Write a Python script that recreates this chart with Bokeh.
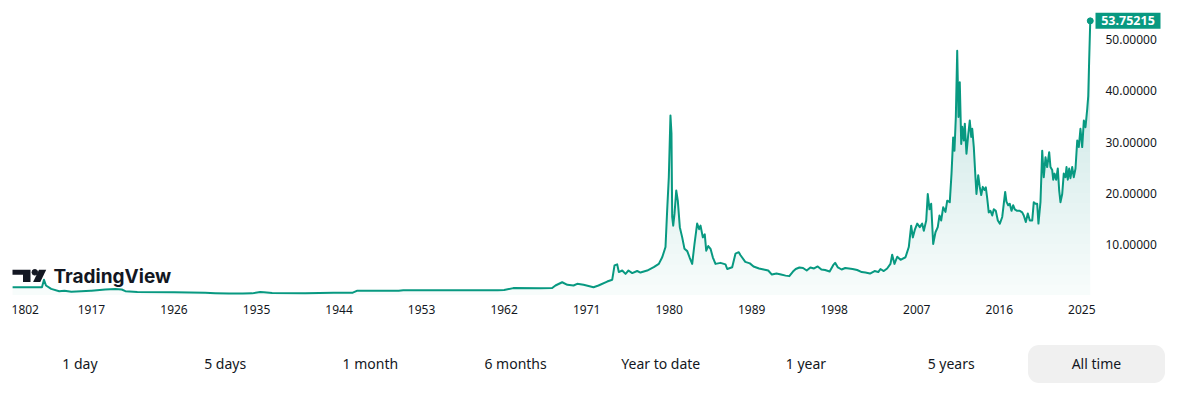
import numpy as np
from bokeh.plotting import figure
from bokeh.models import Range1d, FixedTicker, NumeralTickFormatter, Div
from bokeh.layouts import column
from bokeh.embed import file_html
from bokeh.resources import INLINE
from bokeh.core.properties import value

# ---------------- data ----------------
early_years = [1780, 1831, 1834.5, 1838, 1847, 1861, 1870, 1882, 1899, 1916]
early_values = [1.53, 1.53, 2.98, 1.86, 1.2, 0.75, 0.85, 0.62, 0.75, 0.85]

years = [
    1917, 1918.5, 1919.6, 1920.3, 1920.7, 1922, 1926, 1929.4, 1930.5, 1932, 1933.5,
    1934.5, 1935.4, 1935.8, 1936.7, 1940.3, 1943.4, 1945.5, 1946, 1950.5, 1951, 1956,
    1961.3, 1962, 1963, 1965.97, 1967.24, 1967.6, 1968.33, 1968.9, 1969.57, 1969.97,
    1970.66, 1971.75, 1972.29, 1973.24, 1973.79, 1974.04, 1974.33, 1974.51, 1974.88,
    1975.24, 1975.56, 1975.97, 1976.51, 1976.87, 1977.6, 1978.32, 1978.87, 1979.24,
    1979.6, 1979.78, 1979.96, 1980.14, 1980.25, 1980.33, 1980.44, 1980.58, 1980.77,
    1980.94, 1981.16, 1981.42, 1981.67, 1981.97, 1982.22, 1982.51, 1982.76, 1983.05,
    1983.27, 1983.42, 1983.67, 1983.88, 1984.04, 1984.26, 1984.51, 1984.76, 1985.05,
    1985.6, 1986.14, 1986.33, 1986.87, 1987.23, 1987.59, 1987.78, 1988.3, 1988.8,
    1989.2, 1989.8, 1990.3, 1990.8, 1991.2, 1991.7, 1992.2, 1992.7, 1993.1, 1993.5,
    1993.8, 1994.2, 1994.6, 1995.0, 1995.4, 1995.8, 1996.2, 1996.6, 1997.0, 1997.5,
    1997.9, 1998.1, 1998.4, 1998.8, 1999.2, 1999.6, 2000.0, 2000.5, 2001.0, 2001.4,
    2001.9, 2002.4, 2002.8, 2003.04, 2003.4, 2003.77, 2004.13, 2004.32, 2004.57,
    2004.87, 2005.23, 2005.77, 2006.13, 2006.39, 2006.57, 2006.79, 2007.05, 2007.33,
    2007.59, 2007.77, 2008.03, 2008.2, 2008.39, 2008.57, 2008.79, 2009.04, 2009.29,
    2009.48, 2009.66, 2009.88, 2010.13, 2010.32, 2010.6, 2010.79, 2010.97, 2011.11,
    2011.26, 2011.41, 2011.55, 2011.69, 2011.85, 2011.96, 2012.13, 2012.24, 2012.42,
    2012.61, 2012.78, 2012.94, 2013.05, 2013.22, 2013.4, 2013.51, 2013.7, 2013.87,
    2014.03, 2014.2, 2014.39, 2014.53, 2014.68, 2014.85, 2015.04, 2015.23, 2015.4,
    2015.62, 2015.84, 2016.06, 2016.32, 2016.49, 2016.64, 2016.78, 2016.97, 2017.14,
    2017.33, 2017.51, 2017.69, 2017.95, 2018.24, 2018.5, 2018.67, 2018.89, 2019.11,
    2019.33, 2019.59, 2019.76, 2019.95, 2020.13, 2020.27, 2020.49, 2020.68, 2020.85,
    2021.04, 2021.22, 2021.44, 2021.58, 2021.77, 2021.88, 2022.02, 2022.2, 2022.38,
    2022.53, 2022.67, 2022.86, 2023.03, 2023.22, 2023.33, 2023.47, 2023.62, 2023.76,
    2023.95, 2024.12, 2024.31, 2024.5, 2024.67, 2024.85, 2025.04, 2025.22, 2025.4,
    2025.59, 2025.7, 2025.8, 2025.92,
]
values = [
    0.85, 1.08, 1.2, 1.08, 0.75, 0.6, 0.55, 0.43, 0.35, 0.28, 0.3,
    0.32, 0.6, 0.55, 0.38, 0.35, 0.42, 0.45, 0.85, 0.85, 0.93, 0.92,
    0.93, 1.0, 1.35, 1.33, 1.36, 1.86, 2.5, 2.0, 1.86, 2.2,
    2.0, 1.53, 1.86, 2.64, 3.0, 5.8, 6.0, 4.5, 4.8,
    4.15, 4.8, 4.3, 4.7, 4.4, 4.8, 5.45, 6.1, 7.4,
    9.4, 16.6, 23.1, 35.2, 31.7, 15.3, 13.6, 15.9, 20.5,
    18.5, 13.3, 11.3, 9.05, 8.6, 7.4, 6.1, 10.0, 14.0,
    12.9, 13.6, 11.3, 11.9, 8.7, 9.6, 9.05, 7.4, 6.1,
    6.3, 6.0, 5.1, 5.45, 8.1, 8.4, 7.8, 6.5, 6.2,
    5.6, 5.2, 5.0, 4.8, 4.0, 4.2, 4.0, 3.8, 3.7, 4.6,
    5.1, 5.4, 5.3, 4.8, 5.4, 5.2, 5.6, 5.0, 4.9, 4.6,
    5.9, 6.3, 5.4, 5.0, 5.3, 5.2, 5.1, 4.9, 4.5, 4.4,
    4.2, 4.7, 4.5, 5.1, 4.7, 5.2, 6.1, 7.9, 6.1,
    7.5, 6.9, 7.4, 9.4, 13.6, 11.3, 12.8, 14.0, 13.3,
    14.0, 12.6, 14.6, 19.8, 16.8, 17.9, 10.0, 12.3, 13.3,
    15.6, 14.6, 17.2, 16.3, 18.5, 18.2, 23.8, 30.9, 28.3,
    34.9, 47.9, 34.9, 41.7, 29.6, 33.0, 30.3, 33.6, 27.7,
    31.4, 34.2, 31.0, 32.6, 29.0, 23.1, 19.8, 23.5, 21.2,
    19.6, 21.2, 20.6, 21.1, 19.0, 16.2, 16.5, 15.6, 16.8,
    16.5, 14.6, 14.0, 15.3, 17.9, 20.2, 18.3, 17.6, 17.9,
    16.5, 17.6, 16.8, 16.5, 16.5, 16.2, 15.6, 14.3, 16.0,
    14.6, 14.6, 18.2, 17.9, 17.9, 14.0, 18.2, 28.3, 23.1,
    27.0, 25.1, 28.0, 25.1, 24.5, 22.6, 23.8, 22.6, 24.8,
    20.5, 18.2, 19.8, 23.8, 23.1, 25.1, 22.6, 24.8, 22.9,
    25.1, 23.1, 24.8, 30.3, 29.0, 32.6, 29.0, 34.2, 32.9,
    36.5, 39.0, 46.0, 53.75215,
]

tick_years = [1802, 1917, 1926, 1935, 1944, 1953, 1962, 1971, 1980, 1989, 1998, 2007, 2016, 2025]
price_ticks = [10, 20, 30, 40, 50]
buttons = ["1 day", "5 days", "1 month", "6 months", "Year to date", "1 year", "5 years", "All time"]
active_button = "All time"

TEAL = "#089981"
TEXT = "#131722"
FONT = "Noto Sans"

# time axis: early history is compressed, monthly history from 1917 on
def to_pos(yr):
    yr = np.asarray(yr, dtype=float)
    return np.where(yr < 1917, 1908.4 + (yr - 1780) * 8.6 / 137.0, yr)

xs = np.concatenate([to_pos(early_years), to_pos(years)])
vs = np.concatenate([np.array(early_values, float), np.array(values, float)])

# ---------------- layout constants (pixels) ----------------
W = 1176
FRAME_H = 296
PX_PER_YEAR = 9.17
X0 = 1907.08
X1 = X0 + W / PX_PER_YEAR          # frame spans the full width
Y0, Y1 = -0.294, 57.745

def px2x(px):
    return X0 + px / PX_PER_YEAR

def py2y(py):
    return Y1 - py * (Y1 - Y0) / FRAME_H

def dpx2y(d):
    return d * (Y1 - Y0) / FRAME_H

p = figure(width=W, height=328, x_range=Range1d(X0, X1), y_range=Range1d(Y0, Y1),
           output_backend="svg", toolbar_location=None, y_axis_location="right",
           min_border_left=0, min_border_top=0, min_border_right=0,
           min_border_bottom=328 - FRAME_H)
p.grid.visible = False
p.outline_line_color = None
p.background_fill_color = "white"
p.border_fill_color = "white"

# gradient fill under the line (stacked translucent layers)
p.varea(x=xs, y1=np.zeros_like(vs), y2=vs, fill_color=TEAL, fill_alpha=0.03)
for lvl in np.arange(2, 56, 2):
    p.varea(x=xs, y1=np.full_like(vs, lvl), y2=np.maximum(vs, lvl),
            fill_color=TEAL, fill_alpha=0.0068)

p.line(xs, vs, line_color=TEAL, line_width=2, line_join="round")
p.scatter(x=[xs[-1]], y=[vs[-1]], size=6, color=TEAL)

# axes
tick_pos = [float(t) for t in to_pos(tick_years)]
p.xaxis.ticker = FixedTicker(ticks=tick_pos)
p.xaxis.major_label_overrides = {t: str(y) for t, y in zip(tick_pos, tick_years)}
p.yaxis.ticker = FixedTicker(ticks=price_ticks)
p.yaxis.formatter = NumeralTickFormatter(format="0.00000")
for ax in (p.xaxis[0], p.yaxis[0]):
    ax.axis_line_color = None
    ax.major_tick_line_color = None
    ax.minor_tick_line_color = None
    ax.major_tick_in = 0
    ax.major_tick_out = 0
    ax.major_label_text_font = FONT
    ax.major_label_text_font_size = "12px"
    ax.major_label_text_color = TEXT
p.xaxis.major_label_standoff = 8
# price scale drawn over the right end of the frame, as in the original
p.yaxis.major_label_standoff = -(W - 1105)

# last price badge
last_x = px2x(1127.5)
p.quad(left=[px2x(1095)], right=[px2x(1160)], bottom=[vs[-1] - dpx2y(8)],
       top=[vs[-1] + dpx2y(8)], fill_color=TEAL, line_color=None)
p.text(x=[last_x], y=[vs[-1]], text=[f"{vs[-1]:.5f}"], text_font=value(FONT),
       text_font_style="bold", text_font_size="12.5px", text_color="white",
       text_align="center", text_baseline="middle")

# TradingView watermark
logo_xs = [[px2x(v) for v in (12, 30, 30, 22.5, 22.5, 12)],
           [px2x(v) for v in (38.5, 45.7, 39.8, 32.6)]]
logo_ys = [[py2y(v) for v in (269.3, 269.3, 281.5, 281.5, 274.3, 274.3)],
           [py2y(v) for v in (269.3, 269.3, 281.5, 281.5)]]
p.patches(logo_xs, logo_ys, fill_color=TEXT, line_color=None)
p.scatter(x=[px2x(34.3)], y=[py2y(271.8)], size=5.6, color=TEXT)
p.text(x=[px2x(53)], y=[py2y(275.5)], text=["TradingView"], text_font=value("Inter"),
       text_font_style="bold", text_font_size="19px", text_color=TEXT,
       text_baseline="alphabetic", text_align="left")

# ---------------- range buttons row ----------------
items = []
for i, name in enumerate(buttons):
    cx = 80 + i * 145.2
    bg = "#f0f0f0" if name == active_button else "transparent"
    items.append(
        f'<div style="position:absolute;left:{cx - 68.5:.1f}px;top:17px;width:137px;height:38px;'
        f'line-height:38px;text-align:center;border-radius:11px;background:{bg};">{name}</div>')
html = (f'<div style="position:relative;width:{W}px;height:70px;font-family:\'{FONT}\';'
        f'font-size:14px;color:{TEXT};">' + "".join(items) + "</div>")
bar = Div(text=html, width=W, height=70, margin=0)

layout = column(p, bar, spacing=0)
open("out.html", "w").write(file_html(layout, INLINE))
